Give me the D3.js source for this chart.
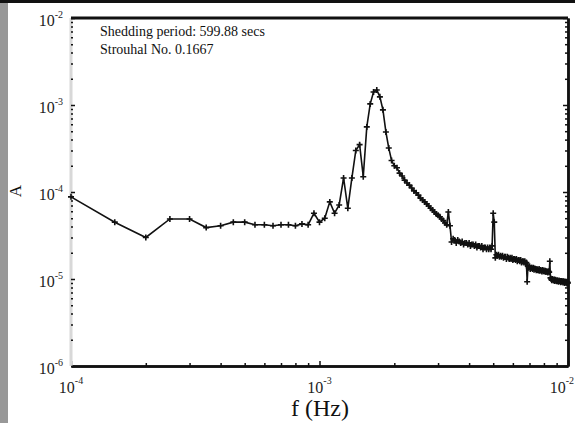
<!DOCTYPE html>
<html>
<head>
<meta charset="utf-8">
<script src="https://cdn.jsdelivr.net/npm/d3@7"></script>
<style>
  body { margin: 0; background: #fff; }
  svg { display: block; font-family: "Liberation Serif", "DejaVu Serif", serif; }
</style>
</head>
<body>
<svg id="spectrum-chart"></svg>
<script>
// frequency of each spectral bin, mHz (converted to Hz below)
var freqMilliHz = [
  0.10, 0.15, 0.20, 0.25, 0.30, 0.35, 0.40, 0.45, 0.50,
  0.55, 0.60, 0.65, 0.70, 0.75, 0.80, 0.85, 0.90, 0.95, 1.00,
  1.05, 1.10, 1.15, 1.20, 1.25, 1.30, 1.35, 1.40, 1.45, 1.50,
  1.55, 1.60, 1.65, 1.70, 1.75, 1.80, 1.85, 1.90, 1.95, 2.00,
  2.05, 2.10, 2.15, 2.20, 2.25, 2.30, 2.35, 2.40, 2.45, 2.50,
  2.55, 2.60, 2.65, 2.70, 2.75, 2.80, 2.85, 2.90, 2.95, 3.00,
  3.05, 3.10, 3.15, 3.20, 3.25, 3.30, 3.35, 3.40, 3.45, 3.50,
  3.55, 3.60, 3.65, 3.70, 3.75, 3.80, 3.85, 3.90, 3.95, 4.00,
  4.05, 4.10, 4.15, 4.20, 4.25, 4.30, 4.35, 4.40, 4.45, 4.50,
  4.55, 4.60, 4.65, 4.70, 4.75, 4.80, 4.85, 4.90, 4.95, 5.00,
  5.05, 5.10, 5.15, 5.20, 5.25, 5.30, 5.35, 5.40, 5.45, 5.50,
  5.55, 5.60, 5.65, 5.70, 5.75, 5.80, 5.85, 5.90, 5.95, 6.00,
  6.05, 6.10, 6.15, 6.20, 6.25, 6.30, 6.35, 6.40, 6.45, 6.50,
  6.55, 6.60, 6.65, 6.70, 6.75, 6.80, 6.85, 6.90, 6.95, 7.00,
  7.05, 7.10, 7.15, 7.20, 7.25, 7.30, 7.35, 7.40, 7.45, 7.50,
  7.55, 7.60, 7.65, 7.70, 7.75, 7.80, 7.85, 7.90, 7.95, 8.00,
  8.05, 8.10, 8.15, 8.20, 8.25, 8.30, 8.35, 8.40, 8.45, 8.50,
  8.55, 8.60, 8.65, 8.70, 8.75, 8.80, 8.85, 8.90, 8.95, 9.00,
  9.05, 9.10, 9.15, 9.20, 9.25, 9.30, 9.35, 9.40, 9.45, 9.50,
  9.55, 9.60, 9.65, 9.70, 9.75, 9.80, 9.85, 9.90, 9.95, 10.00
];

// amplitude A of each bin
var amplitude = [
  8.8e-5, 4.5e-5, 3.0e-5, 4.9e-5, 4.9e-5, 3.9e-5, 4.1e-5, 4.5e-5, 4.5e-5,
  4.2e-5, 4.2e-5, 4.1e-5, 4.2e-5, 4.2e-5, 4.1e-5, 4.3e-5, 4.2e-5, 5.7e-5, 4.5e-5,
  5.0e-5, 7.7e-5, 5.7e-5, 7.1e-5, 1.45e-4, 6.5e-5, 1.45e-4, 3.0e-4, 3.5e-4, 1.5e-4,
  5.6e-4, 1.03e-3, 1.41e-3, 1.49e-3, 1.24e-3, 8.8e-4, 4.9e-4, 3.2e-4, 2.3e-4, 2.0e-4,
  1.9e-4, 1.65e-4, 1.53e-4, 1.37e-4, 1.27e-4, 1.2e-4, 1.11e-4, 1.03e-4, 9.8e-5, 9.2e-5,
  8.5e-5, 8.1e-5, 7.7e-5, 7.3e-5, 6.9e-5, 6.5e-5, 6.2e-5, 5.9e-5, 5.6e-5, 5.4e-5,
  5.2e-5, 4.9e-5, 4.7e-5, 4.4e-5, 4.2e-5, 5.9e-5, 4.1e-5, 2.66e-5, 2.9e-5, 2.8e-5,
  2.6e-5, 2.8e-5, 2.7e-5, 2.6e-5, 2.7e-5, 2.5e-5, 2.6e-5, 2.6e-5, 2.5e-5, 2.6e-5,
  2.4e-5, 2.5e-5, 2.5e-5, 2.4e-5, 2.5e-5, 2.3e-5, 2.4e-5, 2.4e-5, 2.3e-5, 2.4e-5,
  2.2e-5, 2.3e-5, 2.3e-5, 2.2e-5, 2.3e-5, 2.2e-5, 2.3e-5, 2.2e-5, 2.4e-5, 5.7e-5,
  4.5e-5, 1.75e-5, 1.9e-5, 1.85e-5, 1.9e-5, 1.8e-5, 1.85e-5, 1.8e-5, 1.85e-5, 1.75e-5,
  1.8e-5, 1.8e-5, 1.7e-5, 1.8e-5, 1.75e-5, 1.7e-5, 1.75e-5, 1.7e-5, 1.75e-5, 1.65e-5,
  1.7e-5, 1.7e-5, 1.65e-5, 1.7e-5, 1.6e-5, 1.65e-5, 1.65e-5, 1.6e-5, 1.65e-5, 1.55e-5,
  1.6e-5, 1.6e-5, 1.55e-5, 1.6e-5, 1.5e-5, 1.55e-5, 9.3e-6, 1.4e-5, 1.35e-5, 1.4e-5,
  1.3e-5, 1.35e-5, 1.35e-5, 1.3e-5, 1.35e-5, 1.28e-5, 1.32e-5, 1.3e-5, 1.26e-5, 1.3e-5,
  1.27e-5, 1.25e-5, 1.3e-5, 1.24e-5, 1.27e-5, 1.25e-5, 1.22e-5, 1.27e-5, 1.23e-5, 1.25e-5,
  1.22e-5, 1.24e-5, 1.2e-5, 1.23e-5, 1.21e-5, 1.19e-5, 1.23e-5, 1.2e-5, 1.6e-5, 1.03e-5,
  1.0e-5, 9.7e-6, 1.0e-5, 9.8e-6, 9.6e-6, 9.9e-6, 9.5e-6, 9.8e-6, 9.6e-6, 9.4e-6,
  9.7e-6, 9.5e-6, 9.3e-6, 9.6e-6, 9.4e-6, 9.5e-6, 9.2e-6, 9.5e-6, 9.3e-6, 9.4e-6,
  9.1e-6, 9.4e-6, 9.2e-6, 9.0e-6, 9.3e-6, 9.1e-6, 9.2e-6, 8.9e-6, 9.2e-6, 9.0e-6
];

var xTicks = [1e-4, 1e-3, 1e-2];
var xTickExp = ["-4", "-3", "-2"];
var yTicks = [1e-6, 1e-5, 1e-4, 1e-3, 1e-2];
var yTickExp = ["-6", "-5", "-4", "-3", "-2"];
var notes = ["Shedding period: 599.88 secs", "Strouhal No. 0.1667"];

drawSpectrum();

function drawSpectrum(){
    var W = 575, H = 423;
    var margin = {top: 18, right: 7, bottom: 57, left: 71};

    var svg = d3.select('#spectrum-chart')
                .attr('width', W)
                .attr('height', H);

    // page decorations from the scan: black bar on top, gray stripe on the left
    svg.append('rect').attr('x', 0).attr('y', 3).attr('width', 8).attr('height', H)
        .attr('fill', '#989898');
    svg.append('rect').attr('x', 0).attr('y', 0).attr('width', W).attr('height', 3)
        .attr('fill', '#111');

    var x = d3.scaleLog()
                .domain([1e-4, 1e-2])
                .range([margin.left, W - margin.right]);
    var y = d3.scaleLog()
                .domain([1e-6, 1e-2])
                .range([H - margin.bottom, margin.top]);

    var data = freqMilliHz.map(function(f, i){
        return {f: f / 1000, a: amplitude[i]};
    });

    // minor ticks (2..9 per decade)
    var minorX = x.ticks().filter(function(t){ return xTicks.indexOf(t) < 0 });
    var minorY = y.ticks().filter(function(t){ return yTicks.indexOf(t) < 0 });

    var x0 = x.range()[0], x1 = x.range()[1];
    var y0 = y.range()[0], y1 = y.range()[1];

    // bottom axis, ticks pointing inward
    svg.append('g')
                .attr('transform', 'translate(0,' + y0 + ')')
                .call(d3.axisBottom(x).tickValues(minorX).tickSize(-3).tickFormat('').tickSizeOuter(0));
    svg.append('g')
                .attr('transform', 'translate(0,' + y0 + ')')
                .call(d3.axisBottom(x).tickValues(xTicks).tickSize(-5).tickFormat('').tickSizeOuter(0));

    // left axis: pale line with dotted minor ticks
    svg.append('line').attr('x1', x0).attr('x2', x0).attr('y1', y1).attr('y2', y0)
        .attr('stroke', '#d8d8d8').attr('stroke-width', 3);
    svg.append('g')
                .attr('transform', 'translate(' + x0 + ',0)')
                .call(d3.axisLeft(y).tickValues(minorY).tickSize(-2).tickFormat('').tickSizeOuter(0))
                .call(function(g){ g.select('.domain').remove() });
    svg.append('g')
                .attr('transform', 'translate(' + x0 + ',0)')
                .call(d3.axisLeft(y).tickValues(yTicks).tickSize(-4).tickFormat('').tickSizeOuter(0))
                .call(function(g){ g.select('.domain').remove() });

    // right axis, ticks pointing inward
    svg.append('g')
                .attr('transform', 'translate(' + x1 + ',0)')
                .call(d3.axisRight(y).tickValues(minorY).tickSize(-3).tickFormat('').tickSizeOuter(0));
    svg.append('g')
                .attr('transform', 'translate(' + x1 + ',0)')
                .call(d3.axisRight(y).tickValues(yTicks).tickSize(-5).tickFormat('').tickSizeOuter(0));

    svg.selectAll('.tick line').attr('stroke', '#111').attr('stroke-width', 1.5);
    svg.selectAll('.domain').attr('stroke', '#111').attr('stroke-width', 2.5);

    // top frame line
    svg.append('line').attr('x1', x0).attr('x2', x1).attr('y1', y1).attr('y2', y1)
        .attr('stroke', '#111').attr('stroke-width', 3);

    // tick labels 10^n
    var yLab = svg.append('g').selectAll('text')
                .data(yTicks).enter().append('text')
                .attr('x', 63)
                .attr('y', function(d){ return y(d) + 8 })
                .attr('text-anchor', 'end')
                .attr('font-size', 16)
                .attr('fill', '#222');
    yLab.append('tspan').text('10');
    yLab.append('tspan').attr('dy', -8).attr('font-size', 10)
                .text(function(d, i){ return yTickExp[i] });

    var xLab = svg.append('g').selectAll('text')
                .data(xTicks).enter().append('text')
                .attr('x', function(d, i){ return i === xTicks.length - 1 ? W - 1 : x(d) })
                .attr('y', 393)
                .attr('text-anchor', function(d, i){ return i === xTicks.length - 1 ? 'end' : 'middle' })
                .attr('font-size', 16)
                .attr('fill', '#222');
    xLab.append('tspan').text('10');
    xLab.append('tspan').attr('dy', -9).attr('font-size', 10)
                .text(function(d, i){ return xTickExp[i] });

    // axis titles
    svg.append('text')
                .attr('x', 320).attr('y', 416)
                .attr('text-anchor', 'middle')
                .attr('font-size', 24)
                .attr('fill', '#111')
                .text('f (Hz)');
    svg.append('text')
                .attr('transform', 'translate(21,191) rotate(-90)')
                .attr('text-anchor', 'middle')
                .attr('font-size', 17)
                .attr('fill', '#111')
                .text('A');

    // annotations
    svg.append('g').selectAll('text')
                .data(notes).enter().append('text')
                .attr('x', 100)
                .attr('y', function(d, i){ return 36 + i * 18 })
                .attr('font-size', 14)
                .attr('fill', '#111')
                .text(function(d){ return d });

    // the spectrum line
    var line = d3.line()
                .x(function(d){ return x(d.f) })
                .y(function(d){ return y(d.a) });
    svg.append('path')
                .datum(data)
                .attr('fill', 'none')
                .attr('stroke', '#111')
                .attr('stroke-width', 1.6)
                .attr('d', line);

    // "+" markers on each bin
    svg.append('g').selectAll('path')
                .data(data).enter().append('path')
                .attr('transform', function(d){ return 'translate(' + x(d.f) + ',' + y(d.a) + ')' })
                .attr('d', 'M-3,0H3M0,-3V3')
                .attr('stroke', '#111')
                .attr('stroke-width', 1.6);
}
</script>
</body>
</html>
